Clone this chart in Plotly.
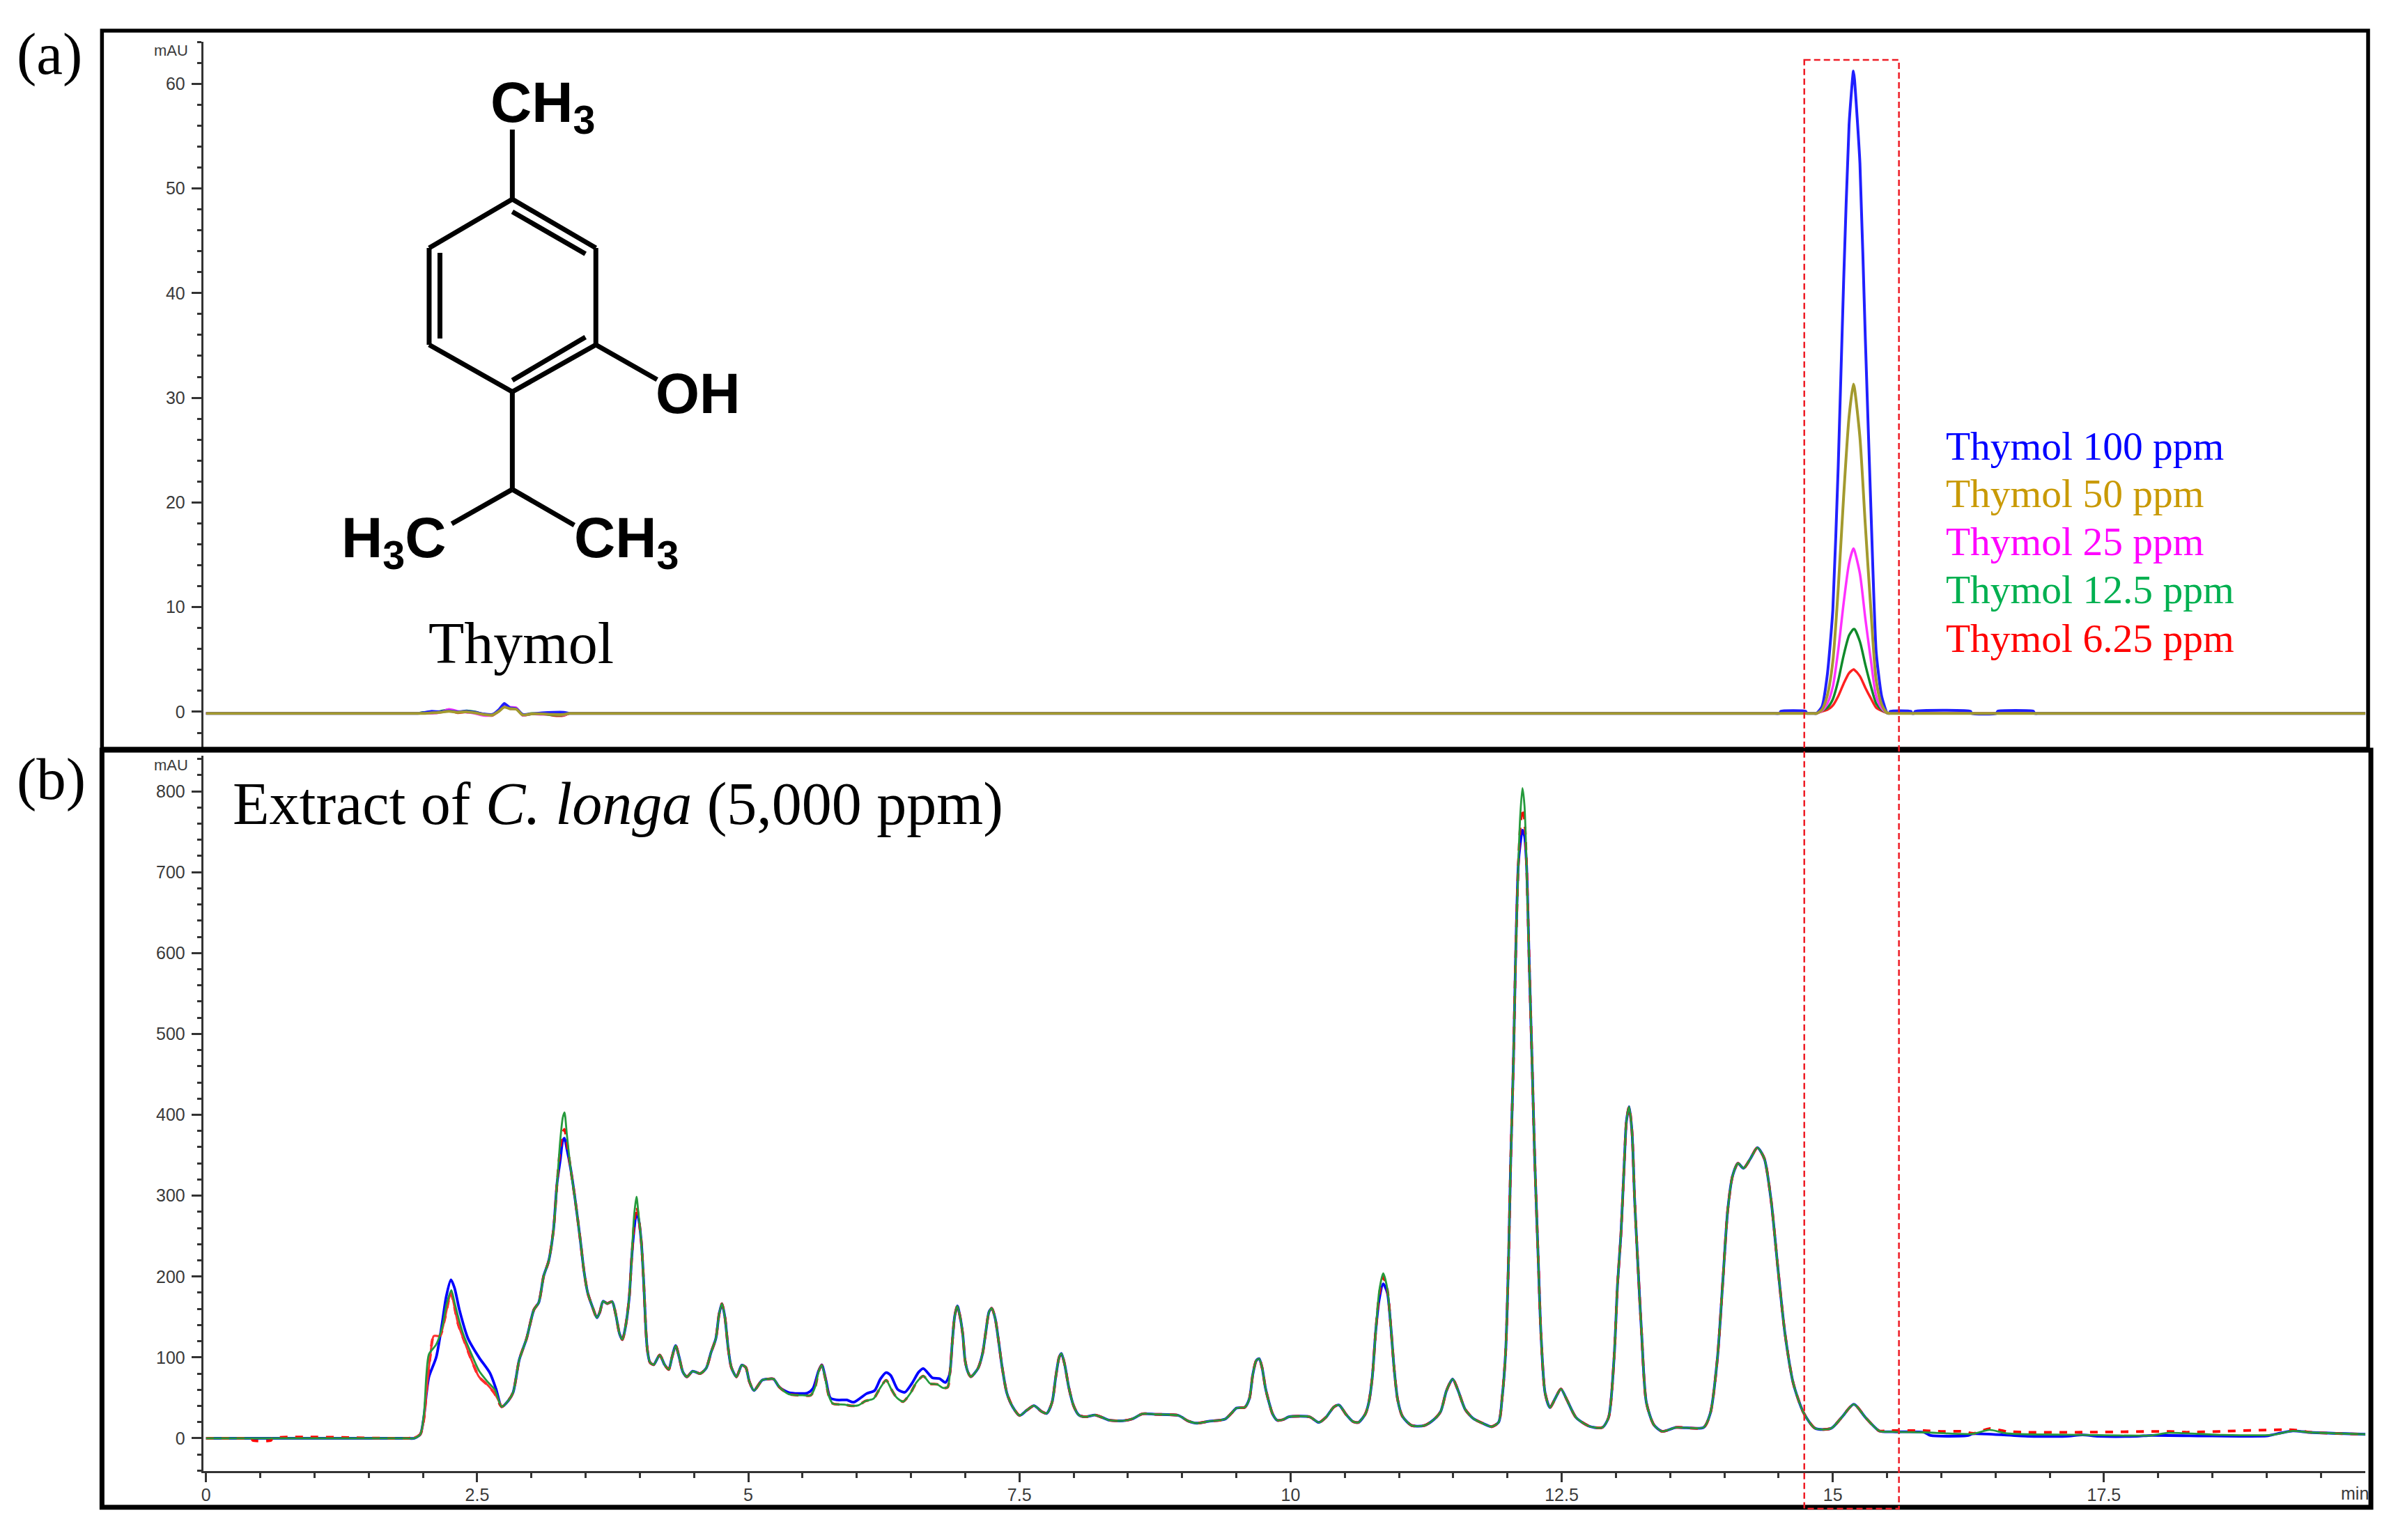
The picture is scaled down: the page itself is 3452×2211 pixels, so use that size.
import plotly.graph_objects as go

W, H = 3452, 2211

# ---------- Panel (a): thymol standards ----------
NOISE_T = [2.0, 2.08, 2.16, 2.24, 2.32, 2.4, 2.48, 2.56, 2.64, 2.7, 2.75, 2.8, 2.86, 2.92, 3.0, 3.1, 3.2, 3.3, 3.35]
NOISE_RED = [-0.15, -0.1, 0.0, 0.15, -0.1, 0.0, -0.1, -0.3, -0.35, 0.05, 0.55, 0.3, 0.3, -0.3, -0.2, -0.15, -0.35, -0.35, -0.15]
NOISE_GREEN = [-0.05, 0.0, 0.05, 0.2, -0.05, 0.1, 0.0, -0.25, -0.3, 0.15, 0.6, 0.4, 0.35, -0.3, -0.15, -0.2, -0.3, -0.3, -0.15]
NOISE_MAGENTA = [-0.15, -0.15, -0.05, 0.25, 0.05, -0.05, -0.15, -0.35, -0.3, 0.1, 0.65, 0.45, 0.4, -0.35, -0.2, -0.25, -0.2, -0.3, -0.15]
NOISE_BLUE = [-0.1, 0.05, 0.0, 0.1, 0.0, 0.05, -0.05, -0.2, -0.25, 0.2, 0.8, 0.4, 0.3, -0.25, -0.2, -0.1, -0.05, -0.05, -0.15]
NOISE_GOLD = [-0.15, -0.1, -0.05, 0.05, -0.05, 0.0, -0.1, -0.25, -0.3, 0.05, 0.45, 0.3, 0.25, -0.3, -0.2, -0.2, -0.25, -0.25, -0.15]

PEAK_T = [14.85, 14.9, 14.95, 15.0, 15.05, 15.1, 15.15, 15.19, 15.2, 15.25, 15.3, 15.35, 15.4, 15.45, 15.5]
PEAK_BLUE = [-0.15, 0.5, 3.6, 9.7, 23.5, 41.2, 56.1, 61.2, 60.4, 52.4, 35.6, 19.8, 5.7, 1.5, -0.1]
PEAK_GOLD = [-0.15, 0.2, 1.6, 4.8, 11.8, 20.6, 28.2, 31.3, 30.9, 26.2, 17.8, 9.9, 3.0, 0.7, -0.1]
PEAK_MAGENTA = [-0.15, 0.1, 0.8, 2.4, 5.9, 10.4, 14.2, 15.6, 15.4, 13.2, 8.9, 5.0, 1.5, 0.35, -0.1]
PEAK_GREEN = [-0.15, 0.1, 0.4, 1.2, 3.0, 5.4, 7.3, 7.9, 7.9, 6.7, 4.5, 2.5, 0.8, 0.2, -0.1]
PEAK_RED = [-0.15, 0.05, 0.2, 0.6, 1.5, 2.7, 3.7, 4.05, 4.0, 3.4, 2.3, 1.3, 0.4, 0.1, -0.1]

BLUE_BEFORE_T = [14.51, 14.52, 14.75, 14.76]
BLUE_BEFORE_V = [-0.15, 0.05, 0.05, -0.15]
BLUE_AFTER_T = [15.52, 15.53, 15.72, 15.73, 15.75, 15.76, 16.27, 16.28, 16.51, 16.52, 16.85, 16.86]
BLUE_AFTER_V = [-0.15, 0.05, 0.05, -0.15, -0.15, 0.05, 0.05, -0.15, -0.15, 0.05, 0.05, -0.15]

# flat stretches of the standards' baseline, all at the same reading
STD_BASE = -0.15
LEAD_T = [0, 1.0, 1.85, 1.95]
GAP_T = [3.42, 3.5, 8.0, 14.3, 14.45]
GAP_SHORT_T = [14.78, 14.82]
TAIL_T = [15.56, 15.62, 16.9, 17.0, 19.0, 19.92]
BLUE_TAIL_STD_T = [16.9, 17.0, 19.0, 19.92]

LEGEND_NAMES = ["Thymol 100 ppm", "Thymol 50 ppm", "Thymol 25 ppm", "Thymol 12.5 ppm", "Thymol 6.25 ppm"]
LEGEND_COLORS = ["#0000ff", "#c99a06", "#ff00ff", "#00b050", "#ff0000"]
LINE_GOLD = "#a39a2e"

# ---------- Panel (b): C. longa extract ----------
EXT_T = [0, 0.2, 0.38, 1.7, 1.85, 1.92, 1.976, 2.01, 2.032, 2.055, 2.122, 2.179, 2.217, 2.262, 2.291, 2.325, 2.37, 2.438, 2.517, 2.595, 2.663,
         2.726, 2.787, 2.832, 2.888, 2.956, 3.023, 3.068, 3.113, 3.158, 3.203, 3.237, 3.267, 3.289, 3.305, 3.327, 3.361,
         3.406, 3.451, 3.485, 3.519, 3.564, 3.604, 3.631, 3.661, 3.699, 3.744, 3.778, 3.812, 3.839, 3.868, 3.902, 3.924,
         3.947, 3.969, 3.987, 4.014, 4.037, 4.055, 4.07, 4.093, 4.127, 4.183, 4.228, 4.266, 4.296, 4.33, 4.363, 4.397,
         4.435, 4.487, 4.555, 4.611, 4.656, 4.701, 4.73, 4.757, 4.784, 4.814, 4.843, 4.891, 4.94, 4.977, 5.009, 5.052,
         5.127, 5.18, 5.233, 5.287, 5.373, 5.501, 5.576, 5.619, 5.647, 5.677, 5.711, 5.741, 5.779, 5.886, 5.95, 6.015,
         6.079, 6.154, 6.207, 6.271, 6.314, 6.368, 6.428, 6.496, 6.55, 6.614, 6.678, 6.742, 6.796, 6.838, 6.86, 6.881,
         6.903, 6.928, 6.952, 6.978, 6.999, 7.025, 7.052, 7.117, 7.16, 7.192, 7.22, 7.245, 7.277, 7.309, 7.341, 7.384,
         7.438, 7.502, 7.566, 7.635, 7.705, 7.752, 7.801, 7.835, 7.866, 7.887, 7.916, 7.955, 8.0, 8.047, 8.111, 8.196,
         8.261, 8.325, 8.453, 8.539, 8.635, 8.753, 8.967, 9.052, 9.138, 9.245, 9.395, 9.459, 9.502, 9.577, 9.62, 9.652,
         9.684, 9.71, 9.737, 9.769, 9.801, 9.834, 9.876, 9.93, 9.984, 10.176, 10.261, 10.326, 10.4, 10.448, 10.508,
         10.572, 10.625, 10.69, 10.722, 10.754, 10.786, 10.818, 10.854, 10.892, 10.924, 10.956, 10.988, 11.031, 11.117,
         11.234, 11.32, 11.384, 11.438, 11.495, 11.545, 11.609, 11.684, 11.77, 11.855, 11.919, 11.951, 11.983, 12.01,
         12.03, 12.055, 12.074, 12.1, 12.118, 12.138, 12.157, 12.176, 12.201, 12.227, 12.252, 12.284, 12.309, 12.347,
         12.392, 12.443, 12.493, 12.55, 12.633, 12.76, 12.875, 12.932, 12.983, 13.015, 13.046, 13.078, 13.097, 13.122,
         13.148, 13.173, 13.205, 13.237, 13.281, 13.351, 13.427, 13.555, 13.809, 13.872, 13.936, 13.987, 14.031, 14.076,
         14.126, 14.177, 14.241, 14.304, 14.368, 14.431, 14.495, 14.559, 14.635, 14.73, 14.838, 14.984, 15.08, 15.194,
         15.302, 15.429, 15.55, 15.842, 16.287, 16.446, 16.605, 17.303, 17.939, 18.098, 18.574, 19.05, 19.241, 19.4, 19.92]
EXT_GREEN = [0, 0, 0, 0, 0, 0, 5, 31.6, 79, 104, 116, 138, 165, 183, 168, 150, 129.5, 107, 83.5, 70, 60,
             39, 46.5, 57, 97, 123.6, 159, 168, 200.7, 218.5, 257, 316, 370, 396.4, 403, 375.7, 334,
             292.6, 245, 206.6, 180, 162, 149, 156, 169.5, 166.6, 169, 153, 129.5, 122, 138, 174, 221.4,
             275, 298.6, 278, 242, 189, 135.4, 108.7, 94, 91, 103, 91, 85, 100, 114.7, 100, 82,
             76, 83, 80, 86.5, 106, 123.6, 153, 166.6, 150, 112, 88, 76, 90.5, 87.6, 70.4, 59,
             71.8, 73.3, 73.3, 63.2, 54.6, 53.2, 53.2, 64.6, 81.9, 90.5, 73.3, 53.2, 43, 41.7, 40.2, 40.8,
             46, 48.9, 60.3, 71.8, 61.8, 50.3, 45.4, 56, 69, 77, 67.5, 66.7, 62.3, 63.2, 81.9, 119,
             150.8, 163.7, 150.8, 128, 96.2, 81.9, 76.2, 86.2, 104.8, 133.6, 156.5, 160.8, 147.9, 119, 87.6, 56,
             38.8, 28.2, 34.5, 40.3, 33, 30.8, 44.6, 76, 100, 105, 92, 63, 40, 28.8, 26.5, 28.8,
             25.9, 22.4, 21.6, 23.9, 30.2, 29.6, 28.2, 21.6, 18.7, 21, 23.6, 31.6, 37.4, 38.2, 48.9, 79,
             96.2, 98.5, 87.6, 61.8, 44.6, 30.2, 22.4, 23, 26.5, 26.5, 19.6, 25.9, 38.8, 41, 30.2,
             21, 19.6, 30.2, 44.6, 76, 133.6, 182.4, 203.9, 185, 139, 84.7, 47.4, 27.3, 15.8,
             15.8, 23, 33, 59, 73.3, 59, 36, 24.5, 18.7, 14.4, 20, 50.3, 106, 221,
             343, 465, 587, 709, 770, 804, 782.4, 709, 587, 465, 343, 221, 129, 56,
             38, 50, 61, 47, 25.6, 14.6, 13.4, 25.6, 99, 190.4, 251.4, 343, 392, 410,
             379.6, 294, 208.7, 129.4, 44, 16.4, 8.5, 13.4, 13.4, 31.7, 99, 196.5, 282, 324.6,
             340, 333.8, 346, 359.4, 346, 294, 208.7, 129.4, 68.3, 31.7, 12.2, 12.2, 25.6, 42,
             25.6, 9.1, 8, 7.3, 5.5, 10.4, 6, 4.2, 3.6, 6.7, 4.2, 4.2, 9.1, 7.3, 4.9]

# places where the blue trace leaves the others
BLUE_FRONT_T = [2.01, 2.032, 2.055, 2.122, 2.179, 2.213, 2.258, 2.291, 2.336, 2.415, 2.517, 2.618, 2.674]
BLUE_FRONT_V = [28, 55, 76, 100, 144, 174, 196, 186, 159, 123.6, 100, 80.6, 61]
BLUE_MID_T = [5.373, 5.544, 5.597, 5.647, 5.677, 5.711, 5.758, 5.822, 5.908, 5.972, 6.09, 6.164, 6.218, 6.271, 6.314,
              6.378, 6.443, 6.507, 6.571, 6.614, 6.699, 6.763, 6.817, 6.849]
BLUE_MID_V = [56.6, 56, 61.8, 83, 91, 75, 49.7, 47.4, 47.4, 44.6, 55.2, 59, 73.3, 81.3, 77.6,
              60.3, 56.9, 67.5, 81.9, 86.2, 74.7, 73.8, 69, 76]
BLUE_TOP1_T = [3.267, 3.289, 3.305, 3.327]
BLUE_TOP1_V = [345, 368, 371, 358]
BLUE_TOP2_T = [3.947, 3.969, 3.987]
BLUE_TOP2_V = [258, 278, 272]
BLUE_TOP3_T = [10.818, 10.854, 10.892]
BLUE_TOP3_V = [172, 191, 180]
BLUE_TOP4_T = [12.118, 12.138, 12.157]
BLUE_TOP4_V = [735, 752, 745]
BLUE_TAIL_T = [15.842, 15.9, 16.25, 16.287, 16.8, 17.15, 17.303, 17.45, 17.8, 17.939, 18.5, 19.0, 19.05]
BLUE_TAIL_V = [7.3, 3.5, 3.5, 5.5, 2.5, 2.5, 4.2, 2.5, 2.5, 3.6, 2.8, 2.8, 4.2]

# places where the red trace leaves the others
RED_ZERO_T = [0.42, 0.43, 0.6, 0.61]
RED_ZERO_V = [0, -2.5, -2.5, 0]
RED_FRONT_T = [1.92, 1.976, 2.01, 2.032, 2.066, 2.1, 2.156, 2.2, 2.258, 2.291, 2.325, 2.38, 2.438, 2.517, 2.595, 2.663, 2.726]
RED_FRONT_V = [1, 5, 25, 58, 100, 126.5, 126.5, 147, 180, 162, 141, 120.6, 100, 76, 66, 55, 39]
RED_TOP1_T = [3.267, 3.289, 3.305, 3.327]
RED_TOP1_V = [360, 378, 382, 366]
RED_TOP2_T = [3.947, 3.969, 3.987]
RED_TOP2_V = [265, 287, 275]
RED_TOP3_T = [10.818, 10.854, 10.892]
RED_TOP3_V = [178, 199.6, 184]
RED_TOP4_T = [12.118, 12.138, 12.157]
RED_TOP4_V = [755, 779, 765]
RED_TAIL_T = [15.429, 15.5, 15.842, 16.0, 16.2, 16.3, 16.446, 16.605, 16.8, 17.3, 18.098, 18.25, 19.241, 19.4]
RED_TAIL_V = [9.1, 9.5, 9.5, 8.5, 8.5, 6, 12, 8.5, 7.5, 7.5, 8.5, 7.5, 10.5, 7.5]

X_TICKS = [0, 2.5, 5, 7.5, 10, 12.5, 15, 17.5]
X_TICK_LABELS = ["0", "2.5", "5", "7.5", "10", "12.5", "15", "17.5"]
Y_A_TICKS = [0, 10, 20, 30, 40, 50, 60]
Y_B_TICKS = [0, 100, 200, 300, 400, 500, 600, 700, 800]


def splice(base_t, base_v, *segments):
    """Replace the stretches of a trace that are read separately."""
    pts = list(zip(base_t, base_v))
    for seg_t, seg_v in segments:
        pts = [p for p in pts if not (seg_t[0] <= p[0] <= seg_t[-1])] + list(zip(seg_t, seg_v))
    pts.sort()
    return [p[0] for p in pts], [p[1] for p in pts]


def flat(times):
    return [STD_BASE] * len(times)


def px(x):
    return x / W


def py(y):
    return 1 - y / H


fig = go.Figure()

# panel (a) traces
SMOOTH = dict(shape="spline", smoothing=0.7)
STD_X = LEAD_T + NOISE_T + GAP_T + GAP_SHORT_T + PEAK_T + TAIL_T


def std_y(noise, peak):
    return flat(LEAD_T) + noise + flat(GAP_T) + flat(GAP_SHORT_T) + peak + flat(TAIL_T)


a_series = [
    (LEGEND_NAMES[4], "#ff2020", NOISE_RED, PEAK_RED),
    (LEGEND_NAMES[3], "#0f8a2a", NOISE_GREEN, PEAK_GREEN),
    (LEGEND_NAMES[2], "#ff30ff", NOISE_MAGENTA, PEAK_MAGENTA),
]
for name, color, noise, peak in a_series:
    fig.add_trace(go.Scatter(x=STD_X, y=std_y(noise, peak), mode="lines", name=name,
                             line=dict(color=color, width=3.5, **SMOOTH), xaxis="x", yaxis="y"))
fig.add_trace(go.Scatter(
    x=LEAD_T + NOISE_T + GAP_T + BLUE_BEFORE_T + GAP_SHORT_T + PEAK_T + BLUE_AFTER_T + BLUE_TAIL_STD_T,
    y=flat(LEAD_T) + NOISE_BLUE + flat(GAP_T) + BLUE_BEFORE_V + flat(GAP_SHORT_T) + PEAK_BLUE + BLUE_AFTER_V + flat(BLUE_TAIL_STD_T),
    mode="lines", name=LEGEND_NAMES[0], line=dict(color="#2020ff", width=4, shape="spline", smoothing=0.5),
    xaxis="x", yaxis="y"))
fig.add_trace(go.Scatter(x=STD_X, y=std_y(NOISE_GOLD, PEAK_GOLD), mode="lines", name=LEGEND_NAMES[1],
                         line=dict(color=LINE_GOLD, width=4, **SMOOTH), xaxis="x", yaxis="y"))

# panel (b) traces
blue_t, blue_v = splice(EXT_T, EXT_GREEN, (BLUE_FRONT_T, BLUE_FRONT_V), (BLUE_MID_T, BLUE_MID_V),
                        (BLUE_TOP1_T, BLUE_TOP1_V), (BLUE_TOP2_T, BLUE_TOP2_V), (BLUE_TOP3_T, BLUE_TOP3_V),
                        (BLUE_TOP4_T, BLUE_TOP4_V), (BLUE_TAIL_T, BLUE_TAIL_V))
red_t, red_v = splice(EXT_T, EXT_GREEN, (RED_ZERO_T, RED_ZERO_V), (RED_FRONT_T, RED_FRONT_V),
                      (RED_TOP1_T, RED_TOP1_V), (RED_TOP2_T, RED_TOP2_V), (RED_TOP3_T, RED_TOP3_V),
                      (RED_TOP4_T, RED_TOP4_V), (RED_TAIL_T, RED_TAIL_V))
fig.add_trace(go.Scatter(x=blue_t, y=blue_v, mode="lines", name="Extract run 1",
                         line=dict(color="#0000ff", width=3.8, **SMOOTH), xaxis="x2", yaxis="y2"))
fig.add_trace(go.Scatter(x=red_t, y=red_v, mode="lines", name="Extract run 2",
                         line=dict(color="#ff0000", width=3.8, dash="11px,11px", **SMOOTH), xaxis="x2", yaxis="y2"))
fig.add_trace(go.Scatter(x=RED_FRONT_T, y=RED_FRONT_V, mode="lines", name="Extract run 2 front",
                         line=dict(color="#ff3030", width=3, **SMOOTH), xaxis="x2", yaxis="y2"))
fig.add_trace(go.Scatter(x=EXT_T, y=EXT_GREEN, mode="lines", name="Extract run 3",
                         line=dict(color="#259a3c", width=2.8, **SMOOTH), xaxis="x2", yaxis="y2"))

AX = "#333333"
TICKF = dict(family="Liberation Sans", size=25, color="#3a3a3a")
LEFT, RIGHT = 289, 3395
x_range = [(LEFT - 293) / 155.8, (RIGHT - 293) / 155.8]

fig.update_layout(
    width=W, height=H, margin=dict(l=0, r=0, t=0, b=0), autosize=False,
    paper_bgcolor="white", plot_bgcolor="white", showlegend=False,
    xaxis=dict(domain=[px(LEFT), px(RIGHT)], range=x_range, visible=False, anchor="y"),
    yaxis=dict(domain=[py(1074), py(60)], range=[-3.46, 64.0], anchor="x",
               tickvals=Y_A_TICKS, ticks="outside", ticklen=14, tickwidth=3, tickcolor=AX, ticklabelstandoff=4,
               showline=True, linecolor=AX, linewidth=3, showgrid=False, zeroline=False,
               tickfont=TICKF, minor=dict(dtick=2, tick0=0, ticks="outside", ticklen=6, tickwidth=3, tickcolor=AX)),
    xaxis2=dict(domain=[px(LEFT), px(RIGHT)], range=x_range, anchor="y2",
                tickvals=X_TICKS, ticktext=X_TICK_LABELS, ticks="outside", ticklen=13, tickwidth=3, tickcolor=AX,
                ticklabelstandoff=-3,
                showline=True, linecolor=AX, linewidth=3, showgrid=False, zeroline=False,
                tickfont=TICKF, minor=dict(dtick=0.5, tick0=0, ticks="outside", ticklen=7, tickwidth=3, tickcolor=AX)),
    yaxis2=dict(domain=[py(2112), py(1085)], range=[-40.5, 844], anchor="x2",
                tickvals=Y_B_TICKS, ticks="outside", ticklen=14, tickwidth=3, tickcolor=AX, ticklabelstandoff=4,
                showline=True, linecolor=AX, linewidth=3, showgrid=False, zeroline=False,
                tickfont=TICKF, minor=dict(dtick=20, tick0=0, ticks="outside", ticklen=6, tickwidth=3, tickcolor=AX)),
)


def rect(x0, y0, x1, y1, color="black", width=6, dash="solid"):
    fig.add_shape(type="rect", xref="paper", yref="paper", x0=px(x0), x1=px(x1), y0=py(y0), y1=py(y1),
                  line=dict(color=color, width=width, dash=dash), fillcolor="rgba(0,0,0,0)", layer="above")


def bond(x0, y0, x1, y1, width=7):
    fig.add_shape(type="line", xref="paper", yref="paper", x0=px(x0), x1=px(x1), y0=py(y0), y1=py(y1),
                  line=dict(color="black", width=width), layer="above")


def label(x, y, text, size, family="Liberation Serif", color="black", anchor="center", weight=None):
    font = dict(family=family, size=size, color=color)
    if weight:
        font["weight"] = weight
    fig.add_annotation(xref="paper", yref="paper", x=px(x), y=py(y), text=text, showarrow=False,
                       xanchor=anchor, yanchor="middle", font=font, borderpad=0, borderwidth=0)


# panel frames and dashed window
rect(143.5, 44, 3399, 1075, width=5.5)
rect(143.5, 1077, 3403, 2164, width=7)
rect(2589, 86, 2725, 2166, color="#ee1c25", width=2.5, dash="9px,5px")

# thymol structure
for seg in [(733, 186, 733, 286), (733, 286, 853, 356), (853, 356, 853, 495), (853, 495, 733, 562.5),
            (733, 562.5, 613.5, 495), (613.5, 495, 613.5, 356), (613.5, 356, 733, 286),
            (733, 304, 838, 364.5), (629, 363, 629, 486), (733, 546, 838, 484),
            (853, 495, 941, 545), (733, 562.5, 733, 702.6), (733, 702.6, 646, 752), (733, 702.6, 822, 754)]:
    bond(*seg)

BOLD = dict(family="Liberation Sans", weight="bold")
label(777, 152, "CH<sub>3</sub>", 82, **BOLD)
label(1000, 565, "OH", 81, **BOLD)
label(562, 777, "H<sub>3</sub>C", 82, **BOLD)
label(897, 777, "CH<sub>3</sub>", 82, **BOLD)
label(746, 923, "Thymol", 84)

label(21, 78, "(a)", 85, anchor="left")
label(21, 1118, "(b)", 85, anchor="left")
label(331, 1154, "Extract of <i>C. longa</i> (5,000 ppm)", 86, anchor="left")

for name, color, y in zip(LEGEND_NAMES, LEGEND_COLORS, [640, 708, 777, 847, 916]):
    label(2792, y, name, 57.5, color=color, anchor="left")

label(243, 73, "mAU", 22, family="Liberation Sans", color="#3a3a3a")
label(243, 1098, "mAU", 22, family="Liberation Sans", color="#3a3a3a")
label(3380, 2144, "min", 25, family="Liberation Sans", color="#3a3a3a")

fig.write_html("out.html", config={"displayModeBar": False},
               post_script="document.body.style.margin='0';")
